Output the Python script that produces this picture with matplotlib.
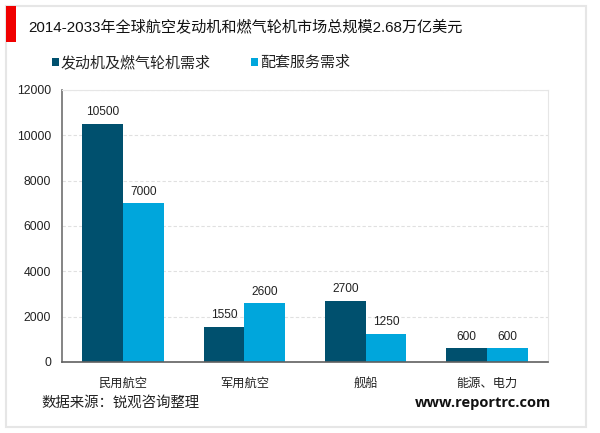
import matplotlib
matplotlib.use('Agg')
from matplotlib import pyplot as plt
from matplotlib.patches import Rectangle
import numpy as np

plt.rcParams['font.family'] = ['Noto Sans CJK SC', 'DejaVu Sans']

# values
categories = ['民用航空', '军用航空', '舰船', '能源、电力']
engine_demand = [10500, 1550, 2700, 600]
service_demand = [7000, 2600, 1250, 600]
y_ticks = [0, 2000, 4000, 6000, 8000, 10000, 12000]
series_names = ['发动机及燃气轮机需求', '配套服务需求']
title = '2014-2033年全球航空发动机和燃气轮机市场总规模2.68万亿美元'
source = '数据来源：锐观咨询整理'
site = 'www.reportrc.com'

W, H = 600, 433
DARK = '#00506E'
LIGHT = '#00A6DC'
TEXT = '#222222'

fig = plt.figure(figsize=(W / 100, H / 100), dpi=100)

# full figure overlay in pixel coords, for the frame and header
bg = fig.add_axes([0, 0, 1, 1])
bg.set_xlim(0, W)
bg.set_ylim(H, 0)
bg.axis('off')
bg.add_patch(Rectangle((5.7, 5.5), 580.5, 421, fill=False, ec='#E6E6E6', lw=1.5))
bg.add_patch(Rectangle((5.7, 5.7), 10, 36.3, fc='#F00000', ec='none'))
bg.text(28, 26.7, title, fontsize=10.9, color='#111111', va='center', ha='left',
        family=['Liberation Sans', 'Noto Sans CJK SC'])

# legend drawn by hand so the spacing follows the reference
bg.add_patch(Rectangle((51.7, 58), 7, 7.5, fc=DARK, ec='none'))
bg.text(61, 63, series_names[0], fontsize=10.8, color=TEXT, va='center')
bg.add_patch(Rectangle((250.7, 58), 7.3, 7.5, fc=LIGHT, ec='none'))
bg.text(260, 63, series_names[1], fontsize=10.8, color=TEXT, va='center')

bg.text(41, 402.5, source, fontsize=10.4, color=TEXT, va='center')
bg.text(551, 402.5, site, fontsize=10.5, color='#111111', va='center', ha='right',
        fontweight='bold', family=['Open Sans', 'DejaVu Sans'])

ax = fig.add_axes([62.3 / W, 1 - 362 / H, (547.7 - 62.3) / W, (362 - 90) / H])
x = np.arange(len(categories))
width = 0.335
bars1 = ax.bar(x - width / 2, engine_demand, width, color=DARK)
bars2 = ax.bar(x + width / 2, service_demand, width, color=LIGHT)

for bars in (bars1, bars2):
    ax.bar_label(bars, padding=4, fontsize=8.6, color=TEXT,
                 family=['Liberation Sans', 'DejaVu Sans'])

ax.set_xlim(-0.5, len(categories) - 0.5)
ax.set_ylim(0, 12000)
ax.set_yticks(y_ticks)
ax.set_yticklabels([str(t) for t in y_ticks], family=['Liberation Sans', 'DejaVu Sans'])
ax.set_xticks(x)
ax.set_xticklabels(categories)
ax.tick_params(axis='y', length=0, labelsize=8.8, labelcolor=TEXT, pad=8)
ax.tick_params(axis='x', length=0, labelsize=8.8, labelcolor=TEXT, pad=10.5)
ax.yaxis.grid(True, color='#E0E0E0', lw=0.8, ls=(0, (3, 2)))
ax.set_axisbelow(True)
ax.spines['top'].set_color('#E6E6E6')
ax.spines['right'].set_color('#E6E6E6')
ax.spines['left'].set_color('#707070')
ax.spines['bottom'].set_color('#606060')
ax.spines['left'].set_linewidth(1.2)
ax.spines['bottom'].set_linewidth(1.2)

fig.savefig('out.png', dpi=100)
